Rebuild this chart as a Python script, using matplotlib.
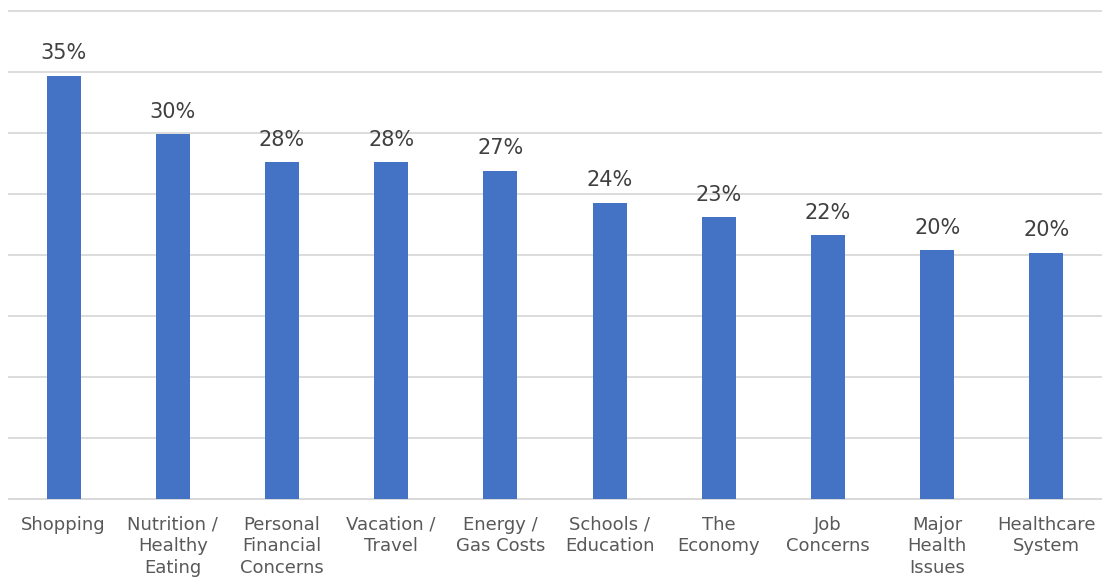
import matplotlib.pyplot as plt
import numpy as np

# kategorie i wartości (%)
categories = ["Shopping", "Nutrition /\nHealthy\nEating", "Personal\nFinancial\nConcerns",
              "Vacation /\nTravel", "Energy /\nGas Costs", "Schools /\nEducation",
              "The\nEconomy", "Job\nConcerns", "Major\nHealth\nIssues", "Healthcare\nSystem"]
values = [34.7, 29.9, 27.6, 27.6, 26.9, 24.3, 23.1, 21.6, 20.4, 20.2]

plt.rcParams['font.family'] = ['DejaVu Sans']

fig = plt.figure(figsize=(11.04, 5.77), dpi=100)
ax = fig.add_axes([9/1104, 1 - 499/577, 1092/1104, 488/577])

x = np.arange(len(categories))
bars = ax.bar(x, values, width=0.31, color='#4472C4', zorder=3)

for xi, v in zip(x, values):
    ax.annotate(f"{v:.0f}%", (xi, v), xytext=(0, 9), textcoords='offset points',
                ha='center', va='bottom', fontsize=15, color='#404040')

ax.set_xlim(-0.5, len(categories) - 0.5)
ax.set_ylim(0, 40)
ax.set_yticks(np.arange(0, 41, 5))
ax.yaxis.grid(True, color='#D9D9D9', linewidth=1.3, zorder=0)
for gl in ax.get_ygridlines():
    gl.set_clip_on(False)
ax.tick_params(axis='y', left=False, labelleft=False)
ax.set_xticks(x)
ax.set_xticklabels(categories, fontsize=13, color='#595959', linespacing=1.25)
ax.tick_params(axis='x', length=0, pad=12)
for s in ['top', 'right', 'left']:
    ax.spines[s].set_visible(False)
ax.spines['bottom'].set_color('#D9D9D9')
ax.spines['bottom'].set_linewidth(1.3)

plt.savefig('out.png', dpi=100)
